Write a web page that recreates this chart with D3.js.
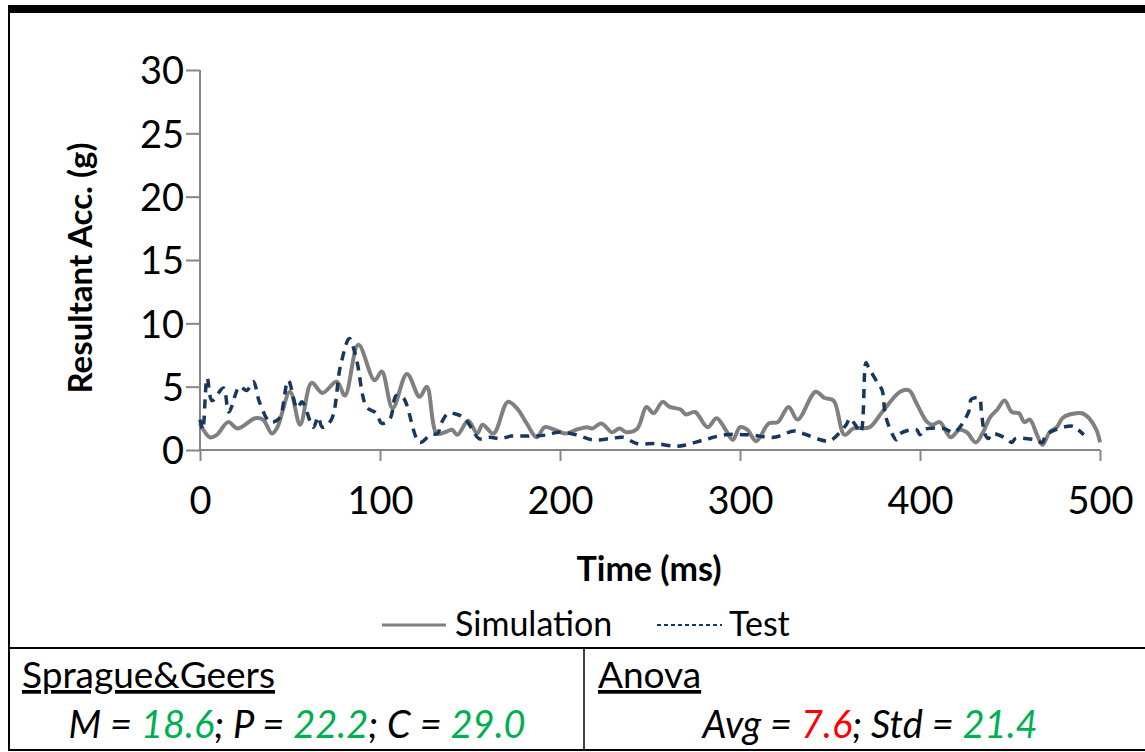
<!DOCTYPE html>
<html>
<head>
<meta charset="utf-8">
<script src="https://cdn.jsdelivr.net/npm/d3@7"></script>
<style>
  body { margin: 0; background: #fff; }
  svg { display: block; font-family: Lato, "Open Sans", sans-serif; }
</style>
</head>
<body>
<div id="chart"></div>
<script>
// values
var simTime = [0, 5.5, 9.4, 15.6, 21, 30.6, 35, 40, 43, 50, 55.6, 62, 68, 76, 80.5, 88, 97, 101, 107, 115, 122, 126,
  131.5, 136, 140, 143, 149, 154, 157, 163, 171, 176, 181.5, 187, 191.5, 197, 203, 209, 215, 218, 223, 229, 233, 237,
  243, 248, 252, 257, 261, 267, 270, 275, 282, 287, 292, 296, 300, 304, 309, 316, 321, 327, 332, 342, 347, 352, 358,
  363, 372, 379, 389, 394, 398, 404, 407, 411, 417, 422, 426, 431, 435, 439, 443, 447, 451, 455, 458, 461, 465, 468,
  472, 476, 479, 483, 490, 494, 498, 500];
var simAcc = [2.1, 1.0, 1.2, 2.2, 1.7, 2.5, 2.4, 1.3, 1.8, 4.6, 2.0, 5.3, 4.5, 5.4, 4.3, 8.3, 5.5, 6.2, 3.3, 6.0, 4.2, 5.0,
  1.3, 1.4, 1.6, 1.2, 2.3, 1.3, 2.0, 1.3, 3.8, 3.3, 2.1, 1.0, 1.8, 1.6, 1.3, 1.6, 1.8, 1.7, 2.1, 1.4, 1.7, 1.4,
  1.7, 3.4, 2.9, 3.8, 3.4, 3.2, 2.8, 3.0, 1.8, 2.5, 1.6, 0.8, 1.8, 1.6, 0.7, 2.1, 2.2, 3.4, 2.4, 4.6, 4.1, 3.9, 1.2,
  1.7, 1.8, 3.0, 4.6, 4.7, 3.7, 2.2, 2.0, 2.2, 1.0, 1.6, 1.4, 0.6, 1.4, 2.6, 3.2, 3.9, 3.0, 2.9, 2.2, 2.4, 1.2, 0.4,
  1.4, 1.8, 2.5, 2.8, 2.9, 2.5, 1.6, 0.6];

var testTime = [0, 1.5, 4, 6.7, 13, 16, 22, 26, 29.6, 33, 39, 44, 49, 54, 56.7, 63, 65.6, 68, 73, 78, 83, 87, 92.6, 98,
  101, 105.6, 109, 113, 122, 128, 132, 134, 138, 143, 147, 151, 155, 161, 167, 173, 180, 186, 193, 199, 209, 218,
  228, 235, 243, 253, 264, 270, 280, 292, 305, 319, 330, 335, 348, 351, 359, 361, 364, 367, 370, 371.5, 376, 379,
  381, 387, 389, 398, 400, 402, 413, 419, 427, 428.5, 433, 434, 436, 438, 440, 448, 451, 453, 464, 468, 470, 484,
  487, 491];
var testAcc = [2.4, 1.6, 5.7, 3.9, 4.9, 3.0, 5.0, 4.7, 5.4, 3.8, 2.2, 2.5, 5.5, 3.3, 3.8, 1.8, 2.6, 1.8, 2.4, 6.6, 8.8, 7.1,
  3.4, 2.9, 2.1, 2.5, 4.3, 4.1, 0.6, 1.2, 1.3, 2.1, 2.9, 2.8, 2.5, 1.7, 0.9, 1.0, 0.9, 1.1, 1.1, 1.1, 1.2, 1.4, 1.2,
  0.8, 0.9, 1.0, 0.5, 0.5, 0.3, 0.4, 0.8, 1.2, 1.2, 1.0, 1.5, 1.3, 0.7, 0.8, 2.0, 2.5, 2.0, 1.4, 6.9, 6.5, 5.4, 4.7,
  2.6, 0.8, 1.3, 1.6, 1.2, 1.6, 1.7, 1.4, 3.0, 4.0, 4.1, 3.2, 1.3, 0.9, 1.3, 0.9, 0.6, 0.9, 0.8, 0.6, 1.2, 1.9,
  1.7, 1.2];

var xTicks = [0, 100, 200, 300, 400, 500];
var yTicks = [0, 5, 10, 15, 20, 25, 30];
var seriesNames = ["Simulation", "Test"];
var sgLabels = ["M = ", "18.6", "; P = ", "22.2", "; C = ", "29.0"];
var anovaLabels = ["Avg = ", "7.6", "; Std = ", "21.4"];

var W = 1145, H = 752;
var svg = d3.select("#chart").append("svg").attr("width", W).attr("height", H);

// frame
svg.append("rect").attr("x", 8).attr("y", 5).attr("width", W - 8).attr("height", 8).attr("fill", "#000");
svg.append("line").attr("x1", 9).attr("x2", 9).attr("y1", 5).attr("y2", 751)
  .attr("stroke", "#000").attr("stroke-width", 2);
svg.append("line").attr("x1", 8).attr("x2", W).attr("y1", 648).attr("y2", 648)
  .attr("stroke", "#000").attr("stroke-width", 2);
svg.append("line").attr("x1", 8).attr("x2", W).attr("y1", 750).attr("y2", 750)
  .attr("stroke", "#000").attr("stroke-width", 2);
svg.append("line").attr("x1", 584).attr("x2", 584).attr("y1", 648).attr("y2", 750)
  .attr("stroke", "#000").attr("stroke-width", 1.5);

var x = d3.scaleLinear().domain([0, 500]).range([200, 1100]);
var y = d3.scaleLinear().domain([0, 30]).range([450, 70]);

var axisColor = "#868686";

var xAxis = svg.append("g").attr("transform", "translate(0,450)")
  .call(d3.axisBottom(x).tickValues(xTicks).tickSize(11).tickPadding(26).tickFormat(d3.format("d")));
var yAxis = svg.append("g").attr("transform", "translate(200,0)")
  .call(d3.axisLeft(y).tickValues(yTicks).tickSize(14).tickPadding(2).tickFormat(d3.format("d")));

[xAxis, yAxis].forEach(function (g) {
  g.select(".domain").attr("stroke", axisColor).attr("stroke-width", 2);
  g.selectAll(".tick line").attr("stroke", axisColor).attr("stroke-width", 2);
  g.selectAll(".tick text").attr("fill", "#000").style("font-size", "38px")
    .style("font-family", "Lato, 'Open Sans', sans-serif");
});
xAxis.select(".domain").attr("d", "M200,0H1100");
yAxis.select(".domain").attr("d", "M0,70V450");
yAxis.selectAll(".tick text").attr("dy", "0.36em");

// axis titles
svg.append("text").attr("x", 649).attr("y", 581).attr("text-anchor", "middle")
  .style("font-size", "34px").style("font-weight", "bold").text("Time (ms)");
svg.append("text").attr("transform", "translate(92,268) rotate(-90)").attr("text-anchor", "middle")
  .style("font-size", "33px").style("font-weight", "bold").text("Resultant Acc. (g)");

// lines
var line = d3.line()
  .x(function (d) { return x(d[0]); })
  .y(function (d) { return y(d[1]); })
  .curve(d3.curveCatmullRom.alpha(0.5));

var simData = simTime.map(function (t, i) { return [t, simAcc[i]]; });
var testData = testTime.map(function (t, i) { return [t, testAcc[i]]; });

svg.append("path").datum(simData).attr("d", line)
  .attr("fill", "none").attr("stroke", "#808080").attr("stroke-width", 4);
svg.append("path").datum(testData).attr("d", line)
  .attr("fill", "none").attr("stroke", "#17375e").attr("stroke-width", 3.5)
  .attr("stroke-dasharray", "9,7");

// legend
var legend = svg.append("g");
legend.append("line").attr("x1", 382).attr("x2", 446).attr("y1", 625).attr("y2", 625)
  .attr("stroke", "#808080").attr("stroke-width", 3);
legend.append("text").attr("x", 455).attr("y", 636).style("font-size", "34px").text(seriesNames[0]);
legend.append("line").attr("x1", 657).attr("x2", 722).attr("y1", 625).attr("y2", 625)
  .attr("stroke", "#17375e").attr("stroke-width", 2).attr("stroke-dasharray", "4,3");
legend.append("text").attr("x", 729).attr("y", 636).style("font-size", "34px").text(seriesNames[1]);

// stats table
svg.append("text").attr("x", 22).attr("y", 688).style("font-size", "37px")
  .style("text-decoration", "underline").text("Sprague&Geers");
svg.append("text").attr("x", 598).attr("y", 688).style("font-size", "37px")
  .style("text-decoration", "underline").text("Anova");

function statLine(labels, cx, colors) {
  var t = svg.append("text").attr("x", cx).attr("y", 738).attr("text-anchor", "middle")
    .style("font-size", "38px").style("font-style", "italic");
  t.selectAll("tspan").data(labels).enter().append("tspan")
    .attr("fill", function (d, i) { return colors[i]; })
    .text(function (d) { return d; });
}
statLine(sgLabels, 297, ["#000", "#00b050", "#000", "#00b050", "#000", "#00b050"]);
statLine(anovaLabels, 870, ["#000", "#ff0000", "#000", "#00b050"]);
</script>
</body>
</html>
